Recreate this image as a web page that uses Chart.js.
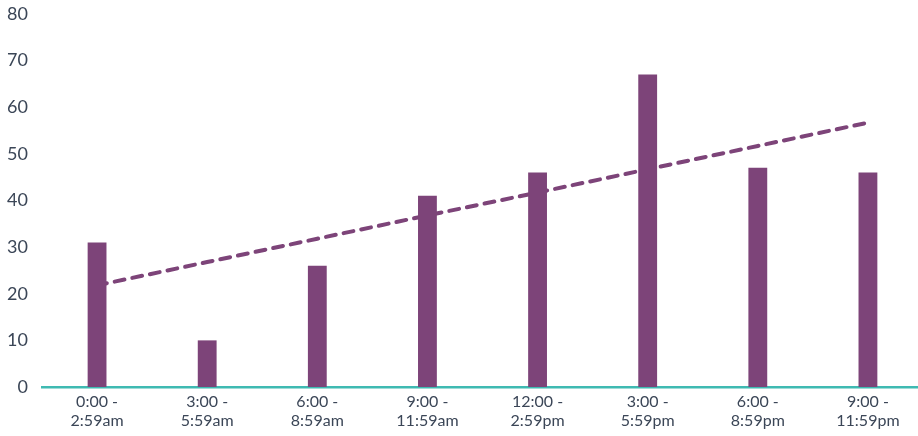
<!DOCTYPE html>
<html>
<head>
<meta charset="utf-8">
<script src="https://cdn.jsdelivr.net/npm/chart.js@4"></script>
<style>
    html, body { margin: 0; padding: 0; background: #fff; overflow: hidden; }
    #wrap { width: 923px; height: 436px; }
</style>
</head>
<body>
<div id="wrap"><canvas id="timeChart"></canvas></div>
<script>
// Chart data
const categories = [
    ['0:00 -', '2:59am'],
    ['3:00 -', '5:59am'],
    ['6:00 -', '8:59am'],
    ['9:00 -', '11:59am'],
    ['12:00 -', '2:59pm'],
    ['3:00 -', '5:59pm'],
    ['6:00 -', '8:59pm'],
    ['9:00 -', '11:59pm']
];
const counts = [31, 10, 26, 41, 46, 67, 47, 46];
const trend = [21.8, 26.8, 31.8, 36.8, 41.7, 46.7, 51.7, 56.7];
const yTicks = [0, 10, 20, 30, 40, 50, 60, 70, 80];

const purple = '#7d4479';
const teal = '#3fbab2';
const textColor = '#3b4657';

const ctx = document.getElementById('timeChart').getContext('2d');
new Chart(ctx, {
    type: 'bar',
    data: {
        labels: categories,
        datasets: [{
            type: 'bar',
            data: counts,
            backgroundColor: purple,
            barPercentage: 0.9,
            categoryPercentage: 0.19,
            order: 1
        }, {
            type: 'line',
            data: trend,
            borderColor: purple,
            borderWidth: 4,
            borderDash: [10, 8],
            borderCapStyle: 'round',
            pointRadius: 0,
            fill: false,
            order: 2
        }]
    },
    options: {
        responsive: true,
        maintainAspectRatio: false,
        animation: false,
        layout: { autoPadding: false, padding: { top: 14, right: 0, left: 0, bottom: 0 } },
        plugins: {
            legend: { display: false },
            tooltip: { enabled: false }
        },
        scales: {
            x: {
                grid: { display: false, drawTicks: false },
                border: { display: true, color: teal, width: 2.5 },
                ticks: {
                    color: textColor,
                    font: { family: 'Lato', size: 16 },
                    padding: 5,
                    maxRotation: 0,
                    autoSkip: false
                },
                afterFit: function(scale) { scale.height = 49; }
            },
            y: {
                min: 0,
                max: 80,
                grid: { display: false, drawTicks: false },
                border: { display: false },
                afterBuildTicks: function(scale) {
                    scale.ticks = yTicks.map(v => ({ value: v }));
                },
                ticks: {
                    color: textColor,
                    font: { family: 'Lato', size: 18 },
                    padding: 14
                },
                afterFit: function(scale) {
                    scale.width = 42;
                    scale.paddingTop = 0;
                }
            }
        }
    }
});
</script>
</body>
</html>
